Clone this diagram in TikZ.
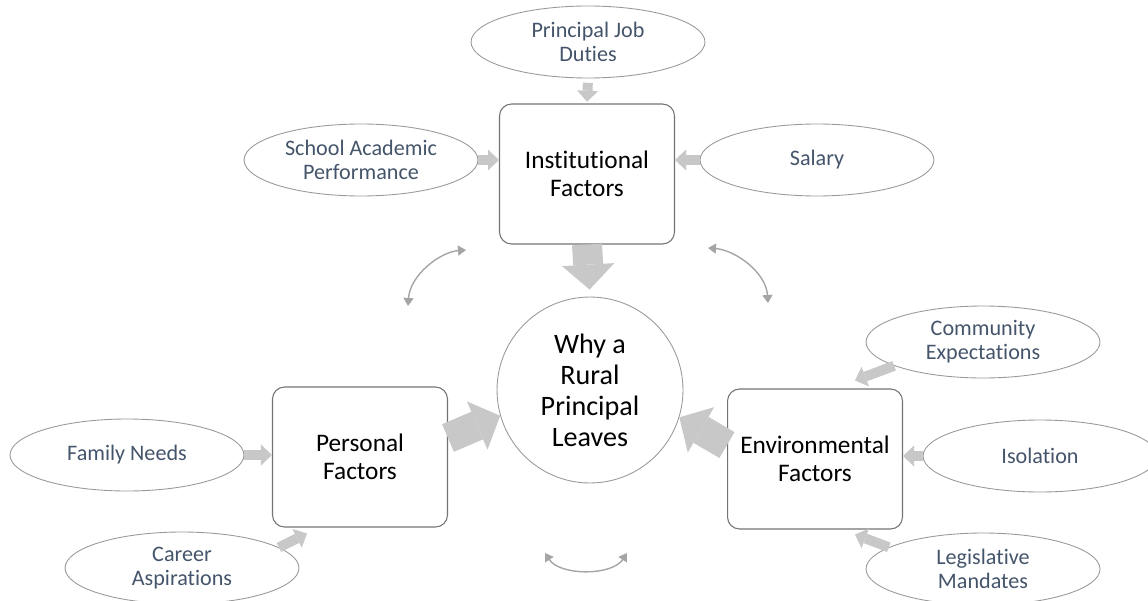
\documentclass[tikz,border=0pt]{standalone}
\usepackage{fontspec}
\setmainfont[Ligatures=NoCommon]{Carlito}
\usepackage{xcolor}
\usetikzlibrary{arrows.meta,positioning,shapes.geometric}
\definecolor{arrgray}{RGB}{200,200,200}
\definecolor{swinggray}{RGB}{165,165,165}
\definecolor{causetext}{HTML}{44546A}

\begin{document}
\begin{tikzpicture}[x=0.02cm, y=-0.02cm,
	factor/.style={draw=black!55, line width=0.6pt, rounded corners=0.24cm,
		minimum width=3.5cm, minimum height=2.8cm, inner sep=0pt,
		align=center, font=\fontsize{14.4}{16}\selectfont},
	cause/.style={ellipse, draw=black!40, line width=0.5pt,
		minimum width=4.68cm, minimum height=1.44cm, inner sep=0pt,
		align=center, text=causetext, font=\fontsize{12.6}{13.8}\selectfont},
	smallarr/.style={draw=arrgray, line width=0.2cm,
		-{Triangle[width=0.42cm, length=0.22cm, line width=0pt]}},
	bigarr/.style={draw=arrgray, line width=0.6cm,
		-{Triangle[width=1.05cm, length=0.5cm, line width=0pt]}},
	swing/.style={draw=swinggray, line width=0.8pt,
		{Triangle[width=0.2cm, length=0.16cm]}-{Triangle[width=0.2cm, length=0.16cm]}}
]
	\useasboundingbox (0,0) rectangle (1148,601);

	% Centre circle
	\node[circle, draw=black!40, line width=0.5pt, minimum size=3.72cm, inner sep=0pt,
		align=center, font=\fontsize{16}{17.6}\selectfont] (why) at (590, 390)
		{Why a\\ Rural\\ Principal\\ Leaves};

	% Three factor boxes
	\node[factor] (inst) at (587, 174) {Institutional\\ Factors};
	\node[factor] (pers) at (360, 457) {Personal\\ Factors};
	\node[factor] (env)  at (815, 459) {Environmental\\ Factors};

	% Institutional causes
	\node[cause] (duties) at (588, 42)  {Principal Job\\ Duties};
	\node[cause] (school) at (361, 160) {School Academic\\ Performance};
	\node[cause] (salary) at (817, 160) {Salary};

	\draw[smallarr, shorten <=2.5pt, shorten >=1pt] (duties.south) -- (inst.north);
	\draw[smallarr] (school.east) -- (school.east -| inst.west);
	\draw[smallarr] (salary.west) -- (salary.west -| inst.east);

	% Personal causes
	\node[cause] (family) at (127, 455) {Family Needs};
	\node[cause] (career) at (182, 568) {Career\\ Aspirations};

	\draw[smallarr] (family.east) -- (family.east -| pers.west);
	\draw[smallarr] (career.12) -- ([xshift=0.7cm, yshift=-0.12cm]pers.south west);

	% Environmental causes
	\node[cause] (community) at (983, 342)  {Community\\ Expectations};
	\node[cause] (isolation) at (1040, 456) {Isolation};
	\node[cause] (legis)     at (983, 569)  {Legislative\\ Mandates};

	\draw[smallarr] (community.195) -- ([xshift=2.56cm, yshift=0.16cm]env.north west);
	\draw[smallarr] (isolation.west) -- (isolation.west -| env.east);
	\draw[smallarr] (legis.167) -- ([xshift=2.56cm, yshift=-0.1cm]env.south west);

	% Factors into the centre
	\draw[bigarr, shorten >=4pt] (inst.south) -- (why.north);
	\draw[bigarr] ([yshift=0.38cm]pers.east) -- (why.196);
	\draw[bigarr] ([yshift=0.28cm]env.west) -- (why.343);

	% Two-way curves between the factors
	\coordinate (il) at (408, 306);
	\coordinate (ir) at (466, 250);
	\coordinate (el) at (708, 248);
	\coordinate (er) at (768, 303);
	\coordinate (bl) at (545, 553);
	\coordinate (br) at (627, 553);
	\draw[swing] (il) .. controls (410, 275) and (440, 252) .. (ir);
	\draw[swing] (el) .. controls (735, 250) and (766, 272) .. (er);
	\draw[swing] (bl) .. controls (560, 576) and (612, 576) .. (br);
\end{tikzpicture}
\end{document}
